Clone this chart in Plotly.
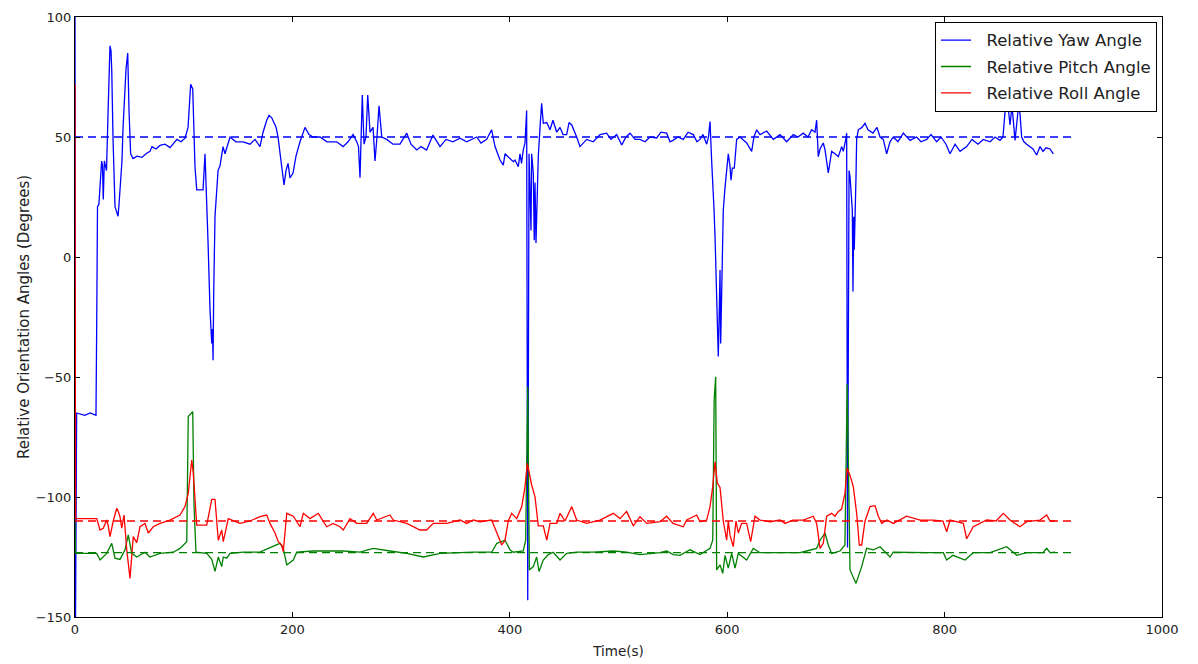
import plotly.graph_objects as go

# ---------------- data ----------------
yaw_t = [0, 0.5, 1.5, 9, 14, 19.3, 20, 20.7, 22, 24.5, 25.3, 26, 27, 29, 30.4, 31.3, 32.2, 33.1, 33.8, 35,
         36.8, 38.2, 39.6, 40.5, 41.4, 43.2, 44.2, 45.5, 46.9, 48.5, 49, 49.7, 51.2, 53.4, 57, 61.6, 65.3, 69,
         70.8, 74.5, 78.2, 82.8, 87.4, 90.2, 93.8, 97.5, 101.2, 104, 105.3, 106.4, 108.3, 110.4, 112, 117.8,
         119.6, 121, 122.4, 124.2, 125.8, 126.5, 127, 127.6, 128.8, 131.6, 133.4, 136.2, 138, 142.6, 148.1,
         154.6, 161, 165.6, 170.2, 173, 176.4, 178.5, 181, 183, 185, 186.8, 188.6, 190.2, 192.3, 194.1, 196,
         197.8, 200.6, 203.3, 207, 211.6, 215.3, 219, 225.4, 231.8, 240.8, 246.6, 251.2, 255.8, 259.2, 260.8,
         262.2, 264.3, 265.9, 267.7, 269.3, 271.4, 274.2, 276, 277.8, 279.7, 282.2, 286.8, 292.5, 299, 305.2,
         309.1, 314.4, 318.3, 323.5, 329.3, 335.8, 341.3, 347.7, 354.2, 360.3, 369.6, 373.5, 378.7, 383.3,
         386.4, 391, 394, 395.6, 398.6, 403.2, 404.8, 407.8, 409.4, 410.8, 412.4, 414, 415.5, 416.5, 417.7,
         418.6, 419.5, 420.1, 421.6, 422.5, 423.2, 424.1, 425, 426.2, 427.8, 429.3, 430.8, 434, 437, 439.7,
         443.2, 446.2, 449, 452.3, 454.5, 457, 461.5, 464.6, 470.7, 476.8, 483, 489.1, 493.1, 498.3, 503,
         506.9, 510.6, 515.2, 519.8, 524.4, 529, 535.1, 539.1, 544.3, 547.4, 550.1, 554.7, 559.6, 564, 568.8,
         572.2, 575, 577.7, 581.1, 582.8, 584.2, 585.7, 587.2, 587.9, 588.8, 590.3, 591.3, 591.8, 592.5, 593.4,
         594, 594.9, 596.4, 598, 599.5, 601, 602.6, 603.5, 604.7, 606.5, 608.7, 611.8, 617.9, 622.5, 624.6,
         627.1, 630.2, 636.3, 642.4, 648.6, 654.7, 660.8, 665.1, 670, 674.3, 677.7, 680.8, 682.3, 683.8, 685.4,
         688.4, 690, 693, 696.1, 699.2, 702.2, 705.3, 706.8, 709, 709.9, 710.7, 712.1, 713, 714, 715.1, 715.7,
         716.4, 716.9, 717.6, 718.5, 719.1, 720.6, 724, 726.8, 729.5, 733, 734.1, 737.8, 740.6, 743.6, 746.7,
         749.8, 752.8, 757.1, 762, 768.2, 774.3, 778.3, 783.5, 787.5, 792.7, 796.7, 801.3, 805, 809.6, 814.2,
         820.3, 825.2, 830.7, 835.6, 841.8, 846.4, 851, 853.7, 855.6, 858.3, 860.2, 862, 864.8, 867.8, 869.3,
         870.9, 873, 875.5, 878.5, 881.3, 884.7, 887.8, 890.5, 893.3, 897, 900]
yaw_v = [100, -150, -65, -66, -65, -66, -26, 21, 22, 40, 38, 24, 40, 36, 60, 75, 88, 86, 78, 49,
         21, 19, 17, 22, 28, 40, 54, 68, 78, 85, 70, 61, 43, 41, 42, 41.5, 43, 44,
         46, 45, 46.5, 47, 45.6, 47, 49, 48, 49.5, 54, 62, 72, 70, 37.5, 28, 28,
         43, 28, 6, -22, -36, -30, -43, -15, 17, 36, 38, 46, 43, 50, 48,
         48, 47, 49, 46, 52, 57, 59, 58, 56, 54, 50, 42, 37.5, 30, 36, 39,
         33, 35, 42, 48, 54, 51, 50, 50, 48, 48, 46, 48, 51, 48, 46,
         33, 67.5, 47, 50, 67.5, 52, 54, 40, 50, 63, 50, 49, 47, 47, 51.6,
         47, 44.6, 46, 44.6, 50.8, 46, 49, 48, 49.5, 48, 50, 47.5, 49, 53,
         46, 40.4, 38.3, 43, 41.8, 39.7, 40.4, 37.6, 43, 39, 44.6, 47.5, 61, -143, 43,
         31, 11, 43, 35, 7, 31, 5.8, 21, 41.8, 54, 64, 55.7, 56, 53, 57,
         52, 54, 51, 51, 56, 55, 50, 46, 49, 48, 51, 51.6, 49, 51, 46.7,
         50, 51.6, 49, 49, 48, 50, 49.6, 52, 51.6, 48, 48.6, 50, 49, 52, 51,
         48, 49, 51, 47, 50, 56.4, 40, 28, 19.6, 8.5, -15, -33, -41.5, -27.6, -5.4,
         -36, -8, 19.6, 29, 35, 43, 37.6, 32, 37, 37, 49, 50, 47.5, 44, 50,
         53, 51, 52.5, 49, 51, 48, 51, 50, 51.6, 50, 53, 52, 57, 41.8, 45,
         47.5, 44.6, 35, 44, 43, 41.8, 46, 44, 48.75, 51.6, -121, 36, 33.5, 28, 19.6, -14.4,
         16.8, 3, 12.6, 33.5, 49, 53, 54, 55.7, 53, 52, 51.6, 54, 50, 49, 43,
         48, 50, 48, 51.6, 48.6, 50, 48, 49, 51, 48, 50, 47, 43, 47, 44,
         46, 49, 47, 49, 48, 50, 48.6, 50, 60.5, 63, 55, 63, 48.6, 62, 60,
         50, 48, 47, 46, 45, 42.5, 46, 44, 45.5, 45, 43]

pitch_t = [0, 0.5, 20, 23, 29.2, 33.8, 36.8, 41.4, 46, 49, 52.2, 56.8, 64.4, 69, 78.2, 90.4, 96.6, 102.8,
           104.2, 108.3, 109.5, 111.3, 121.2, 125.8, 128.8, 131.8, 135, 136.4, 139.6, 142.6, 154.8, 170.2,
           177.8, 188.6, 191.6, 194.8, 200.8, 204, 219.2, 231.6, 246.8, 262.2, 274.4, 289.8, 305.2, 320.4,
           335.8, 366.4, 383.3, 388, 395.6, 400.2, 403.2, 412.4, 414.6, 416.5, 417.4, 418, 421.6, 424.7, 426.9,
           430.8, 435.4, 440, 446.2, 452.3, 461.5, 476.8, 495.2, 507.5, 519.8, 538.2, 544.3, 550.4, 556.6,
           565.8, 575, 584.2, 586.7, 588, 589.4, 590.3, 593.4, 595.9, 598, 601, 604.1, 607.2, 610.2, 617.9,
           624, 630.2, 648.6, 667, 673.1, 682.3, 685.4, 690, 693, 696.1, 703.8, 708.3, 710.4, 712.4, 713,
           718.5, 723.7, 728.3, 734.4, 740.6, 749.8, 752.8, 768.2, 783.5, 798.8, 801.9, 807.7, 818.8, 826.4,
           841.8, 857.1, 866.3, 875.5, 890.5, 893.9, 897, 901.6]
pitch_v = [-110, -123.5, -123.5, -126.25, -123.5, -119.3, -125.5, -126, -122, -115.8, -123.5, -125, -123,
           -125, -123.5, -123, -121.4, -118.6, -66.5, -64.4, -104, -123, -123.5, -126, -131, -125, -129, -125,
           -125.5, -123.5, -123, -123, -121.4, -119.3, -121.4, -128.3, -126.25, -123, -122.5, -122.5, -122.5,
           -123, -121.4, -122.5, -123.5, -125, -123.5, -123, -123, -119.3, -118, -122, -123, -122.5, -118,
           -54, -90, -130.4, -129, -125, -131, -126.25, -124, -123, -126.25, -123.5, -123, -123, -122.5, -123,
           -124, -123.2, -122.5, -124, -124.3, -122, -124, -121.4, -118, -59.6, -49.9, -130.4, -128.3, -131.8,
           -124.3, -129.6, -123.5, -129.6, -123.5, -126.25, -121.4, -123.2, -123.2, -123.2, -122.5, -121.4,
           -118, -115, -120, -123.5, -122.5, -120, -53, -123.5, -130.4, -136, -129, -121.4, -122, -120.7,
           -125, -123, -123.2, -123.2, -123.2, -126.25, -124.3, -126.25, -123.2, -123.2, -120.7, -124.3,
           -123.2, -123.2, -121.4, -123.2, -123]

roll_t = [0, 0.5, 20, 23, 26, 29.2, 30.6, 32.2, 35.2, 38.4, 39.8, 41.4, 43, 45.1, 47.6, 50.6, 53.6, 56.8,
          59.8, 64.4, 67.4, 72, 78.2, 87.4, 96.6, 101.2, 104.2, 107.4, 108.8, 110.4, 112, 121.2, 125.8,
          128.8, 131.8, 135, 136.4, 141, 151.8, 161, 170.2, 176.4, 179.4, 184, 187, 190.2, 191.6, 194.8,
          200.8, 207, 210, 216.2, 223.8, 231.6, 237.4, 243.8, 246.8, 253, 259.2, 268.4, 274.4, 277.6, 289.8,
          292.8, 305.2, 317.4, 323.5, 329.6, 342, 354.2, 360.3, 366.4, 372.6, 383.3, 388, 392.6, 395.6,
          398.6, 401.7, 406.4, 411, 414, 416.1, 417.7, 420.1, 423.2, 426.2, 430.8, 434, 437, 443.2, 446.2,
          450.8, 457, 461.5, 470.7, 483, 495.2, 501.4, 507.5, 513.6, 519.8, 526, 538.2, 544.3, 550.1, 559.6,
          562.7, 571.9, 575, 581.1, 584.2, 586.7, 588.8, 590.9, 593.4, 596.4, 599.5, 601, 602.6, 605.6,
          608.1, 610.2, 613.3, 617.9, 621.6, 625.6, 630.2, 639.4, 648.6, 653.2, 660.5, 670, 679.2, 682.3,
          685.4, 688.4, 691.5, 696.1, 699.2, 702.2, 705.3, 708.3, 710.4, 713, 716, 719.1, 721.5, 723.7,
          726.8, 731.4, 736, 739, 742.2, 747, 752.8, 765.1, 777.4, 789.6, 798.5, 801.9, 805, 817.2, 820.3,
          826.4, 838.7, 847.3, 854, 860.2, 869.3, 875.5, 887.8, 893.9, 897, 901.6]
roll_v = [72, -109, -109, -113.75, -113, -109.6, -112, -116.5, -110, -104.7, -106, -108.2, -113, -107.5,
          -122, -133.9, -116.5, -119, -112.4, -111, -115, -112.4, -111, -109.6, -107.5, -104, -98.5, -84.6,
          -90, -101, -111.7, -111.7, -101, -101, -118, -113.75, -118.6, -109, -111, -110, -108.2, -107.5,
          -111, -115, -118.6, -120, -122.8, -106.8, -108, -112.4, -106.8, -109, -106.8, -112.4, -111,
          -112.4, -113.75, -109, -111, -111, -106.8, -109.6, -107.5, -109.6, -111, -113.75, -113.75, -111,
          -111, -109.6, -111, -109.6, -110.3, -109.6, -115, -120, -118, -110, -106.8, -109, -104, -95.7,
          -86, -90, -95, -99.9, -112, -112, -118, -111, -111, -106.8, -110, -104, -109.6, -111, -109.6,
          -106.8, -109, -106, -112, -108.2, -111, -110.3, -108, -111, -112.4, -109.6, -107.5, -110.3,
          -109.6, -104, -95.7, -85.3, -94.2, -96, -110, -118, -110, -116, -120.7, -110, -115, -111, -111,
          -118.6, -108, -109.6, -110.3, -109.6, -111, -109.6, -109.6, -108, -111, -121.4, -119.3, -108,
          -106.8, -108, -106, -105, -98.5, -88, -91, -95.7, -106.8, -120, -120, -110, -104, -103.6, -108,
          -111, -109.6, -111, -108, -109.6, -109.6, -110, -114.5, -109.6, -111, -117.4, -112.4, -109.6,
          -110, -106.8, -109.6, -112.4, -110.3, -109.6, -107.5, -110, -110]

# reference (dashed) levels and their time span
ref_span = [0, 920]
yaw_ref = 50
pitch_ref = -123.2
roll_ref = -110

x_ticks = [0, 200, 400, 600, 800, 1000]
y_ticks = [-150, -100, -50, 0, 50, 100]

BLUE, GREEN, RED = "#0000ff", "#008000", "#ff0000"
PAD = "\u00a0\u00a0"

fig = go.Figure()
for name, t, v, c in [
    ("Relative Yaw Angle", yaw_t, yaw_v, BLUE),
    ("Relative Pitch Angle", pitch_t, pitch_v, GREEN),
    ("Relative Roll Angle", roll_t, roll_v, RED),
]:
    fig.add_trace(go.Scatter(x=t, y=v, mode="lines", name=PAD + name, legendgroup=name,
                             line=dict(color=c, width=1.3)))

for c, ref in [(BLUE, yaw_ref), (GREEN, pitch_ref), (RED, roll_ref)]:
    fig.add_trace(go.Scatter(x=ref_span, y=[ref, ref], mode="lines", showlegend=False,
                             line=dict(color=c, width=1.3, dash="8px,5px")))

axis_common = dict(showline=True, linecolor="black", linewidth=1, mirror="ticks",
                   ticks="inside", ticklen=5, tickcolor="black", showgrid=False, zeroline=False,
                   automargin=False,
                   tickfont=dict(family="DejaVu Sans", size=13, color="#222"))

fig.update_layout(
    width=1198, height=664,
    margin=dict(l=75, r=36, t=17, b=47),
    paper_bgcolor="white", plot_bgcolor="white",
    font=dict(family="DejaVu Sans", size=13, color="#222"),
    xaxis=dict(range=[0, 1000], tickvals=x_ticks,
               title=dict(text="Time(s)", font=dict(size=13.5), standoff=10), **axis_common),
    yaxis=dict(range=[-150, 100], tickvals=y_ticks,
               title=dict(text="Relative Orientation Angles (Degrees)", font=dict(size=15), standoff=2),
               **axis_common),
    legend=dict(x=0.9954, y=0.992, xanchor="right", yanchor="top",
                bgcolor="white", bordercolor="black", borderwidth=1,
                font=dict(family="DejaVu Sans", size=16.5, color="#222"),
                tracegroupgap=2, itemwidth=30),
    showlegend=True,
)

fig.write_html("out.html")
